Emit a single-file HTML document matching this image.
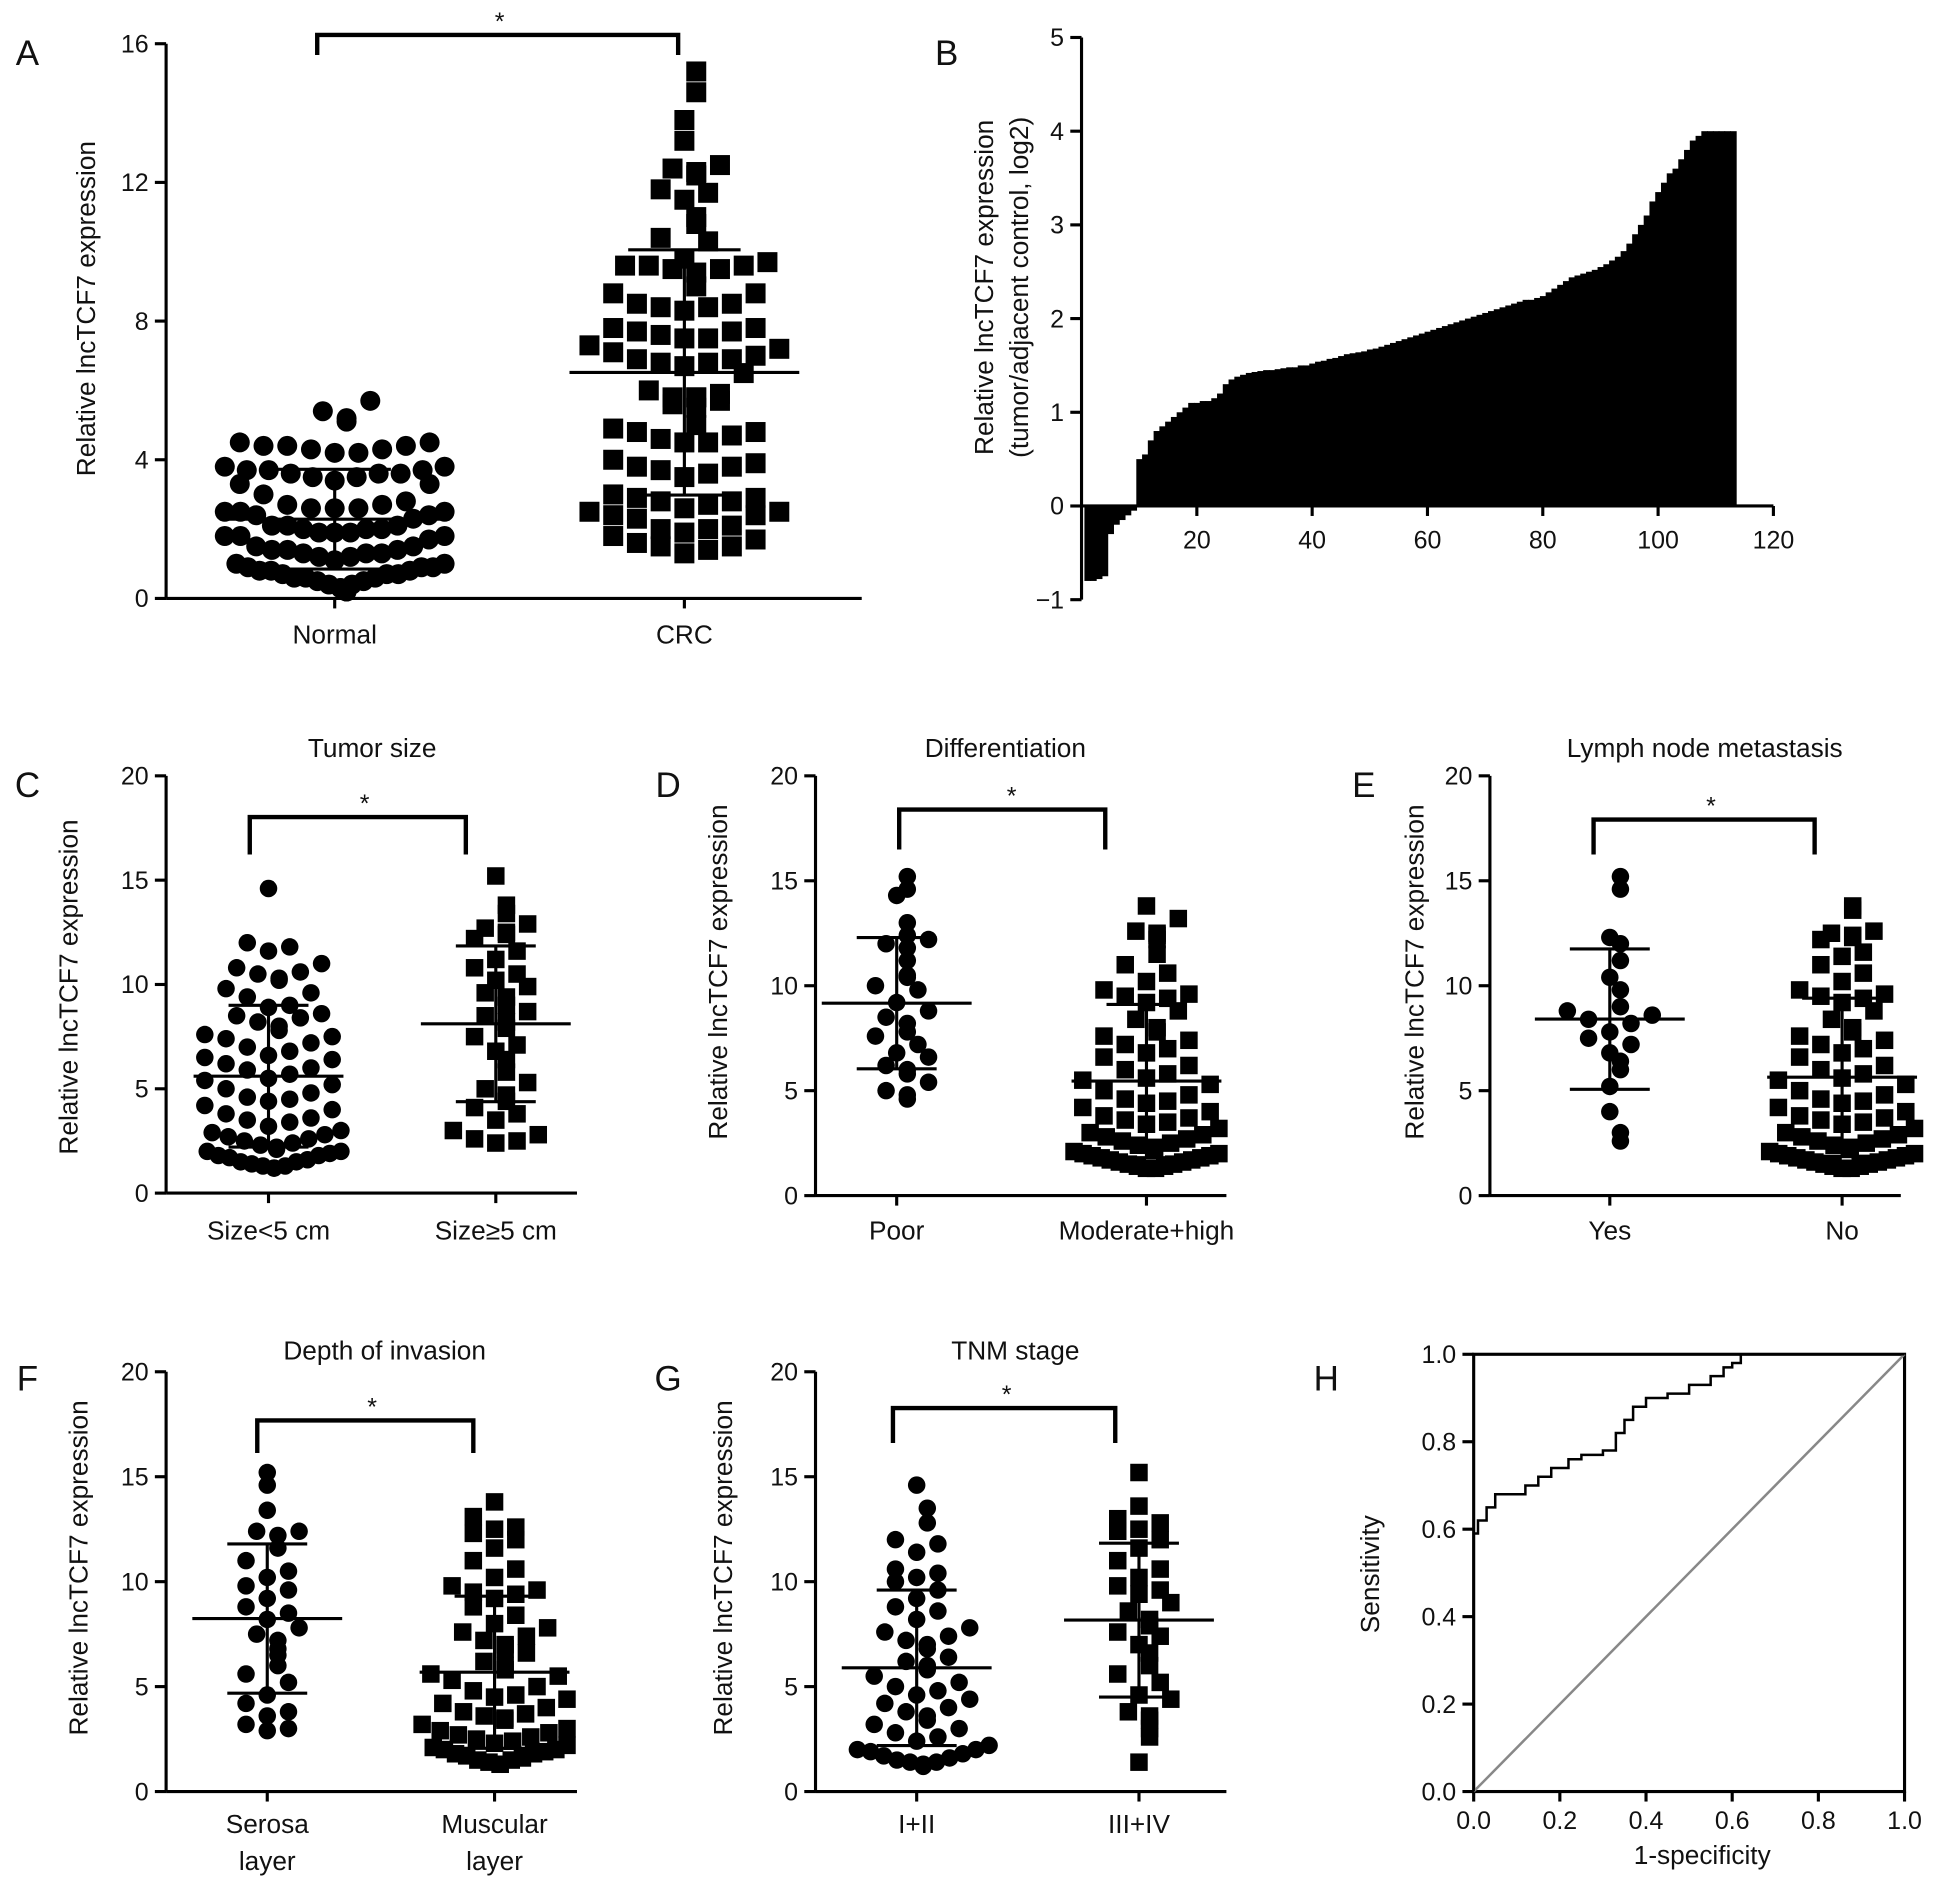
<!DOCTYPE html>
<html><head><meta charset="utf-8"><style>
html,body{margin:0;padding:0;background:#fff;}
svg{display:block;}
text{font-family:"Liberation Sans",Arial,sans-serif;fill:#111;}
</style></head><body>
<svg id="fig" xmlns="http://www.w3.org/2000/svg" width="1952" height="1884" viewBox="0 0 1563 1508" preserveAspectRatio="none">
<rect width="1563" height="1508" fill="#fff"/>
</svg>
<script>
// ---- Panel A data ----
const aCategories = ["Normal","CRC"];
const aNormal = [5.7,5.4,5.2,5.1,4.5,4.5,4.4,4.4,4.4,4.3,4.3,4.2,4.2,3.8,3.8,3.7,3.7,3.7,3.6,3.6,3.6,3.5,3.5,3.4,3.3,3.3,2.7,2.7,2.6,2.6,2.6,2.5,2.5,2.5,2.4,2.4,2.3,2.8,3.0,2.1,2.1,2.1,2.0,2.0,2.0,1.9,1.9,1.9,1.8,1.8,1.8,1.7,1.5,1.5,1.4,1.4,1.4,1.3,1.3,1.3,1.2,1.2,1.1,1.0,1.0,0.9,0.9,0.9,0.8,0.8,0.8,0.7,0.7,0.7,0.6,0.6,0.6,0.5,0.5,0.4,0.4,0.3,0.3,0.2,0.2];
const aCRC = [15.2,14.6,13.8,13.2,12.5,12.4,12.3,12.2,11.8,11.7,11.5,11.0,10.8,10.4,10.3,9.8,9.7,9.6,9.6,9.6,9.5,9.5,9.4,9.0,8.8,8.8,8.5,8.5,8.4,8.4,8.3,7.8,7.8,7.7,7.7,7.6,7.5,7.5,7.3,7.2,7.1,7.0,6.9,6.9,6.8,6.8,6.7,6.5,6.0,5.9,5.8,5.8,5.8,5.7,5.6,5.5,5.0,4.9,4.8,4.8,4.7,4.6,4.5,4.5,4.0,3.9,3.8,3.8,3.7,3.6,3.5,3.0,2.9,2.9,2.8,2.8,2.7,2.6,2.5,2.5,2.4,2.4,2.3,2.1,2.0,2.0,1.9,1.8,1.7,1.6,1.5,1.5,1.4,1.3];
const aTicks = [0,4,8,12,16];
// ---- Panel B data ----
const bValues = [-0.8,-0.8,-0.78,-0.75,-0.3,-0.2,-0.15,-0.1,-0.05,0.5,0.55,0.7,0.8,0.85,0.9,0.95,1.0,1.05,1.1,1.1,1.12,1.12,1.15,1.2,1.3,1.35,1.38,1.4,1.42,1.43,1.44,1.45,1.45,1.46,1.47,1.48,1.48,1.5,1.5,1.52,1.54,1.55,1.57,1.58,1.6,1.62,1.63,1.64,1.65,1.67,1.68,1.7,1.72,1.74,1.76,1.78,1.8,1.82,1.84,1.86,1.88,1.9,1.92,1.94,1.96,1.98,2.0,2.02,2.04,2.06,2.08,2.1,2.12,2.14,2.16,2.18,2.2,2.2,2.22,2.24,2.28,2.32,2.36,2.4,2.44,2.46,2.48,2.5,2.52,2.55,2.58,2.62,2.66,2.72,2.8,2.9,3.0,3.1,3.25,3.35,3.45,3.55,3.6,3.7,3.8,3.9,3.95,4.0,4.0,4.0,4.0,4.0,4.0];
const bYTicks = [-1,0,1,2,3,4,5];
const bXTicks = [20,40,60,80,100,120];
// ---- Panel C-G data ----
const cSmall = [14.6,12.0,11.8,11.6,11.0,10.8,10.6,10.5,10.3,10.2,9.8,9.6,9.4,9.0,8.9,8.6,8.5,8.4,8.2,8.0,7.8,7.6,7.5,7.4,7.2,7.0,6.8,6.6,6.5,6.4,6.2,6.0,5.9,5.7,5.5,5.4,5.2,5.0,4.8,4.6,4.5,4.4,4.2,4.0,3.8,3.6,3.5,3.4,3.2,3.0,2.9,2.8,2.7,2.6,2.5,2.4,2.3,2.2,2.1,2.0,2.0,1.9,1.8,1.8,1.7,1.6,1.5,1.5,1.4,1.3,1.3,1.2,1.2];
const cLarge = [15.2,13.8,13.4,12.9,12.7,12.5,12.4,12.2,11.6,11.2,10.8,10.5,10.2,9.9,9.6,9.4,9.0,8.7,8.5,8.2,7.9,7.5,7.1,6.8,6.4,5.8,5.3,5.0,4.7,4.4,4.1,3.8,3.5,3.0,2.8,2.6,2.5,2.4];
const dPoor = [15.2,14.6,14.3,13.0,12.4,12.2,12.0,11.8,11.2,10.5,10.4,10.0,9.8,9.2,8.8,8.5,8.2,7.8,7.6,7.2,6.8,6.6,6.2,6.0,5.8,5.4,5.0,4.8,4.6];
const dModerate = [13.8,13.2,12.6,12.5,12.4,12.2,11.5,11.0,10.6,10.2,9.8,9.6,9.5,9.4,9.2,8.8,8.4,8.0,7.8,7.6,7.4,7.2,7.0,6.8,6.6,6.2,6.0,5.8,5.6,5.5,5.3,5.0,4.8,4.6,4.5,4.4,4.2,4.0,3.8,3.7,3.6,3.5,3.4,3.2,3.0,2.9,2.8,2.7,2.6,2.5,2.4,2.3,2.2,2.1,2.0,2.0,1.9,1.9,1.8,1.8,1.7,1.7,1.6,1.6,1.5,1.5,1.4,1.4,1.3,1.3];
const eYes = [15.2,14.6,12.3,12.0,11.2,10.4,9.8,9.0,8.8,8.6,8.4,8.2,7.8,7.5,7.2,6.8,6.4,6.0,5.2,4.0,3.0,2.6];
const eNo = [13.8,13.6,12.6,12.5,12.4,12.3,12.2,11.6,11.4,11.0,10.6,10.2,9.8,9.6,9.5,9.4,9.2,8.8,8.4,8.0,7.8,7.6,7.4,7.2,7.0,6.8,6.6,6.2,6.0,5.8,5.6,5.5,5.3,5.0,4.8,4.6,4.5,4.4,4.2,4.0,3.8,3.7,3.6,3.5,3.4,3.2,3.0,2.9,2.8,2.7,2.6,2.5,2.4,2.3,2.2,2.1,2.0,2.0,1.9,1.9,1.8,1.8,1.7,1.7,1.6,1.6,1.5,1.5,1.4,1.4,1.3,1.3];
const fSerosa = [15.2,14.6,13.4,12.4,12.4,12.2,11.6,11.0,10.5,10.2,9.8,9.6,9.2,8.8,8.5,8.2,7.8,7.5,7.2,6.8,6.5,6.0,5.6,5.2,4.6,4.2,3.8,3.6,3.2,3.0,2.9];
const fMuscular = [13.8,13.1,12.6,12.5,12.3,12.0,11.6,11.0,10.6,10.2,9.8,9.6,9.5,9.4,9.2,8.8,8.4,8.0,7.8,7.6,7.4,7.2,7.0,6.8,6.6,6.2,6.0,5.8,5.6,5.5,5.3,5.0,4.8,4.6,4.5,4.4,4.2,4.0,3.8,3.7,3.6,3.5,3.4,3.2,3.0,2.9,2.8,2.7,2.6,2.5,2.4,2.3,2.2,2.1,2.0,2.0,1.9,1.8,1.8,1.7,1.6,1.5,1.5,1.4,1.3,1.3];
const gEarly = [14.6,13.5,12.8,12.0,11.8,11.4,10.6,10.4,10.2,10.0,9.6,9.2,8.8,8.6,8.2,7.8,7.6,7.4,7.2,7.0,6.8,6.4,6.2,6.0,5.8,5.5,5.2,5.0,4.8,4.6,4.4,4.2,4.0,3.8,3.6,3.4,3.2,3.0,2.8,2.6,2.4,2.2,2.0,2.0,1.9,1.8,1.7,1.6,1.5,1.4,1.4,1.3,1.2];
const gLate = [15.2,13.6,13.0,12.8,12.5,12.4,12.0,11.6,11.0,10.6,10.2,9.8,9.6,9.4,9.0,8.6,8.2,7.9,7.6,7.4,7.0,6.6,6.0,5.6,5.2,4.6,4.4,3.8,3.6,3.4,3.0,2.6,1.4];
const cdTicks = [0,5,10,15,20];
// ---- Panel H data ----
const rocFPR = [0,0,0.01,0.01,0.03,0.03,0.05,0.05,0.1,0.12,0.15,0.18,0.22,0.25,0.3,0.33,0.35,0.37,0.4,0.45,0.5,0.55,0.58,0.6,0.62,1];
const rocTPR = [0,0.59,0.59,0.62,0.62,0.65,0.65,0.68,0.68,0.7,0.72,0.74,0.76,0.77,0.78,0.82,0.85,0.88,0.9,0.91,0.93,0.95,0.97,0.98,1.0,1.0];
const hTicks = [0,0.2,0.4,0.6,0.8,1.0];

const NS="http://www.w3.org/2000/svg";
const svg=document.getElementById('fig');
function mk(tag,attrs,parent){const e=document.createElementNS(NS,tag);for(const k in attrs)e.setAttribute(k,attrs[k]);(parent||svg).appendChild(e);return e;}
function txt(s,x,y,size,anchor,parent,rot){const t=mk('text',{x:x,y:y,'font-size':size,'text-anchor':anchor||'middle'},parent);if(rot)t.setAttribute('transform','rotate(-90 '+x+' '+y+')');t.textContent=s;return t;}
function grp(name){const g=mk('g',{});return g;}

function stats(v){const m=v.reduce((a,b)=>a+b,0)/v.length;const sd=Math.sqrt(v.reduce((a,b)=>a+(b-m)*(b-m),0)/(v.length-1));return [m,sd];}

function swarm(g,vals,cx,ys,shape,r,name,maxHalf,binPx){
  const rows={};
  vals.forEach(v=>{const py=ys(v);const k=Math.round(py/binPx);(rows[k]=rows[k]||[]).push(py);});
  Object.keys(rows).forEach(k=>{
    const arr=rows[k].slice().sort((a,b)=>b-a);
    const n=arr.length;
    let step=2*r+3;
    if(n>1 && (n-1)/2*step>maxHalf) step=maxHalf/((n-1)/2);
    arr.forEach((py,i)=>{
      const rank=Math.ceil(i/2)*(i%2===1?1:-1);
      const off=(n%2===0)?(rank+(i%2===1?-0.5:0.5))*step:rank*step;
      const x=cx+off;
      let e;
      if(shape==='c') e=mk('circle',{cx:x,cy:py,r:r,fill:'#000'},g);
      else e=mk('rect',{x:x-r,y:py-r,width:2*r,height:2*r,fill:'#000'},g);
      
      
    });
  });
}
function errbar(g,vals,cx,ys,mw,cw){
  const [m,sd]=stats(vals);
  mk('line',{x1:cx-mw,x2:cx+mw,y1:ys(m),y2:ys(m),stroke:'#000','stroke-width':2.5},g);
  mk('line',{x1:cx,x2:cx,y1:ys(m+sd),y2:ys(Math.max(m-sd,0)),stroke:'#000','stroke-width':2.5},g);
  mk('line',{x1:cx-cw,x2:cx+cw,y1:ys(m+sd),y2:ys(m+sd),stroke:'#000','stroke-width':2.5},g);
  mk('line',{x1:cx-cw,x2:cx+cw,y1:ys(Math.max(m-sd,0)),y2:ys(Math.max(m-sd,0)),stroke:'#000','stroke-width':2.5},g);
}
function bracket(g,x1,x2,y,drop,sx){
  mk('path',{d:`M${x1},${y+drop} V${y} H${x2} V${y+drop}`,fill:'none',stroke:'#000','stroke-width':3.5},g);
  txt('*',sx,y-4,20,'middle',g);
}

function scatterPanel(o){
  const g=grp(o.name);
  const ys=v=>o.y0-(v-0)*(o.y0-o.yTop)/o.max;
  const ax=grp(o.name+'-y-axis');g.appendChild(ax);
  mk('line',{x1:o.x,x2:o.x,y1:o.yTop,y2:o.y0,stroke:'#000','stroke-width':2.5},ax);
  o.ticks.forEach(t=>{mk('line',{x1:o.x-9,x2:o.x,y1:ys(t),y2:ys(t),stroke:'#000','stroke-width':2.5},ax);txt(String(t),o.x-14,ys(t)+7,20,'end',ax);});
  const xa=grp(o.name+'-x-axis');g.appendChild(xa);
  mk('line',{x1:o.x,x2:o.xEnd,y1:o.y0,y2:o.y0,stroke:'#000','stroke-width':2.5},xa);
  o.groups.forEach((gr,i)=>{
    mk('line',{x1:gr.cx,x2:gr.cx,y1:o.y0,y2:o.y0+8,stroke:'#000','stroke-width':2.5},xa);
    gr.label.forEach((l,j)=>txt(l,gr.lx||gr.cx,o.labelY+j*30,21,'middle',xa));
    const sg=grp(o.name+'-group-'+i);g.appendChild(sg);
    swarm(sg,gr.vals,gr.cx,ys,gr.shape,o.r,gr.shape==='c'?'dot':'square',o.maxHalf,o.binPx);
    errbar(sg,gr.vals,gr.cx,ys,o.mw,o.cw);
  });
  const t=txt(o.ytitle,o.ytx,o.yty,21,'middle',g,true);
  if(o.title){txt(o.title,o.titleX,o.titleY,21,'middle',g);}
  const bg=grp(o.name+'-significance');g.appendChild(bg);
  bracket(bg,o.br[0],o.br[1],o.br[2],o.br[3],o.br[4]);
  txt(o.letter,o.lx,o.ly,28,'middle',g);
}

scatterPanel({name:'panel-a',x:133,xEnd:690,y0:479,yTop:35,max:16,ticks:aTicks,r:8,labelY:515,maxHalf:88,binPx:22,mw:92,cw:45,
  groups:[{cx:268,vals:aNormal,shape:'c',label:[aCategories[0]]},{cx:548,vals:aCRC,shape:'s',label:[aCategories[1]]}],
  ytitle:'Relative lncTCF7 expression',ytx:76,yty:247,br:[254,543,28,16,400],letter:'A',lx:22,ly:52});

const sp=[
 {name:'panel-c',x:133,xEnd:462,y0:955,yTop:621,a:cSmall,b:cLarge,sa:'c',sb:'s',c1:215,c2:397,l1:['Size<5 cm'],l2:['Size≥5 cm'],title:'Tumor size',tx:298,ty:606,br:[200,373,654,30,292],L:'C',lx:22,ly:638,ytx:62,yty:790,labelY:992},
 {name:'panel-d',x:653,xEnd:982,y0:957,yTop:621,a:dPoor,b:dModerate,sa:'c',sb:'s',c1:718,c2:918,l1:['Poor'],l2:['Moderate+high'],title:'Differentiation',tx:805,ty:606,br:[720,885,648,32,810],L:'D',lx:535,ly:638,ytx:582,yty:778,labelY:992},
 {name:'panel-e',x:1193,xEnd:1522,y0:957,yTop:621,a:eYes,b:eNo,sa:'c',sb:'s',c1:1289,c2:1475,l1:['Yes'],l2:['No'],title:'Lymph node metastasis',tx:1365,ty:606,br:[1276,1453,656,28,1370],L:'E',lx:1092,ly:638,ytx:1140,yty:778,labelY:992},
 {name:'panel-f',x:133,xEnd:462,y0:1434,yTop:1098,a:fSerosa,b:fMuscular,sa:'c',sb:'s',c1:214,c2:396,l1:['Serosa','layer'],l2:['Muscular','layer'],title:'Depth of invasion',tx:308,ty:1088,br:[206,379,1137,26,298],L:'F',lx:22,ly:1113,ytx:70,yty:1255,labelY:1467},
 {name:'panel-g',x:653,xEnd:982,y0:1434,yTop:1098,a:gEarly,b:gLate,sa:'c',sb:'s',c1:734,c2:912,l1:['I+II'],l2:['III+IV'],title:'TNM stage',tx:813,ty:1088,br:[715,893,1127,28,806],L:'G',lx:535,ly:1113,ytx:586,yty:1255,labelY:1467}
];
sp.forEach(p=>scatterPanel({name:p.name,x:p.x,xEnd:p.xEnd,y0:p.y0,yTop:p.yTop,max:20,ticks:cdTicks,r:7,labelY:p.labelY,maxHalf:58,binPx:19,mw:60,cw:32,
  groups:[{cx:p.c1,vals:p.a,shape:p.sa,label:p.l1},{cx:p.c2,vals:p.b,shape:p.sb,label:p.l2}],
  ytitle:'Relative lncTCF7 expression',ytx:p.ytx,yty:p.yty,title:p.title,titleX:p.tx,titleY:p.ty,br:p.br,letter:p.L,lx:p.lx,ly:p.ly}));

// ---- Panel B ----
(function(){
  const g=grp('panel-b');
  const x0=866,xPer=(1420-866)/120,y0=405,yPer=75;
  const xs=v=>x0+v*xPer, ys=v=>y0-v*yPer;
  const bars=grp('panel-b-bars');g.appendChild(bars);
  bValues.forEach((v,i)=>{
    const r=mk('rect',{x:xs(i+0.5),y:Math.min(ys(v),y0),width:xPer+0.6,height:Math.abs(ys(v)-y0),fill:'#000'},bars);
    
    
  });
  const ya=grp('panel-b-y-axis');g.appendChild(ya);
  mk('line',{x1:x0,x2:x0,y1:ys(5),y2:ys(-1),stroke:'#000','stroke-width':2.5},ya);
  bYTicks.forEach(t=>{mk('line',{x1:x0-9,x2:x0,y1:ys(t),y2:ys(t),stroke:'#000','stroke-width':2.5},ya);txt(t<0?'−'+(-t):String(t),x0-14,ys(t)+7,20,'end',ya);});
  const xa=grp('panel-b-x-axis');g.appendChild(xa);
  mk('line',{x1:x0,x2:xs(120),y1:y0,y2:y0,stroke:'#000','stroke-width':2.5},xa);
  bXTicks.forEach(t=>{mk('line',{x1:xs(t),x2:xs(t),y1:y0,y2:y0+8,stroke:'#000','stroke-width':2.5},xa);txt(String(t),xs(t),y0+34,20,'middle',xa);});
  txt('Relative lncTCF7 expression',795,230,21,'middle',g,true);
  txt('(tumor/adjacent control, log2)',823,230,21,'middle',g,true);
  txt('B',758,52,28,'middle',g);
})();

// ---- Panel H ----
(function(){
  const g=grp('panel-h');
  const xs=v=>1180+v*345, ys=v=>1434-v*350;
  mk('rect',{x:xs(0),y:ys(1),width:345,height:350,fill:'none',stroke:'#000','stroke-width':2.5},g);
  hTicks.forEach(t=>{
    mk('line',{x1:xs(0)-9,x2:xs(0),y1:ys(t),y2:ys(t),stroke:'#000','stroke-width':2.5},g);
    txt(t.toFixed(1),xs(0)-14,ys(t)+7,20,'end',g);
    mk('line',{x1:xs(t),x2:xs(t),y1:ys(0),y2:ys(0)+8,stroke:'#000','stroke-width':2.5},g);
    txt(t.toFixed(1),xs(t),ys(0)+30,20,'middle',g);
  });
  const d=mk('line',{x1:xs(0),y1:ys(0),x2:xs(1),y2:ys(1),stroke:'#888','stroke-width':2},g);
  
  
  let p='M'+xs(rocFPR[0])+','+ys(rocTPR[0]);
  for(let i=1;i<rocFPR.length;i++){p+=' H'+xs(rocFPR[i])+' V'+ys(rocTPR[i]);}
  const c=mk('path',{d:p,fill:'none',stroke:'#000','stroke-width':2},g);
  
  
  txt('Sensitivity',1104,1260,21,'middle',g,true);
  txt('1-specificity',1363,1492,21,'middle',g);
  txt('H',1062,1113,28,'middle',g);
})();
</script>
</body></html>
